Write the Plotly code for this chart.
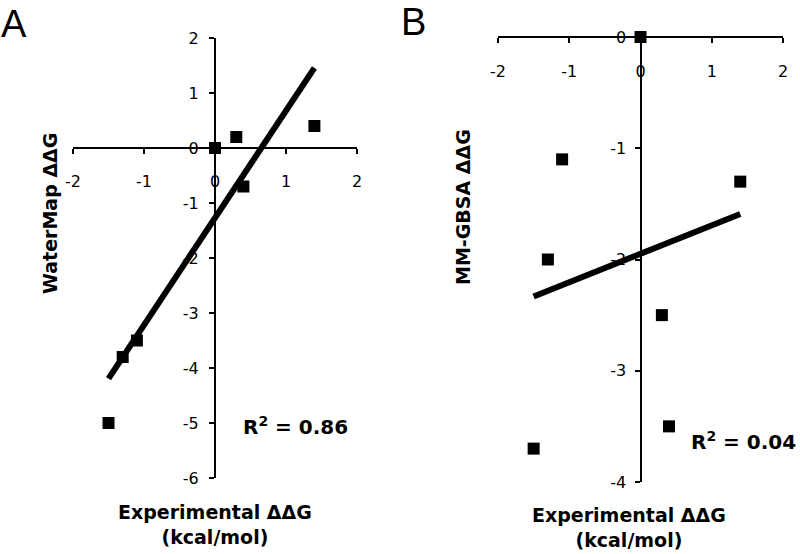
import numpy as np
import plotly.graph_objects as go

# ---- data ----
exp_ddg = [-1.5, -1.3, -1.1, 0.0, 0.3, 0.4, 1.4]
watermap_ddg = [-5.0, -3.8, -3.5, 0.0, 0.2, -0.7, 0.4]
mmgbsa_ddg = [-3.7, -2.0, -1.1, 0.0, -2.5, -3.5, -1.3]

x_ticks = [-2, -1, 0, 1, 2]
x_tick_text = ["-2", "-1", "0", "1", "2"]
ya_ticks = [2, 1, 0, -1, -2, -3, -4, -5, -6]
ya_tick_text = ["2", "1", "0", "-1", "-2", "-3", "-4", "-5", "-6"]
yb_ticks = [0, -1, -2, -3, -4]
yb_tick_text = ["0", "-1", "-2", "-3", "-4"]


def fit(x, y):
    x = np.asarray(x, float)
    y = np.asarray(y, float)
    m, b = np.polyfit(x, y, 1)
    r2 = np.corrcoef(x, y)[0, 1] ** 2
    xs = np.array([x.min(), x.max()])
    return xs, m * xs + b, r2


xa, ya_fit, r2a = fit(exp_ddg, watermap_ddg)
xb, yb_fit, r2b = fit(exp_ddg, mmgbsa_ddg)

FONT = "DejaVu Sans"
W, H = 800, 554

fig = go.Figure()
marker = dict(symbol="square", size=12, color="black")
fig.add_trace(go.Scatter(x=exp_ddg, y=watermap_ddg, mode="markers", marker=marker,
                         xaxis="x", yaxis="y", cliponaxis=False, showlegend=False))
fig.add_trace(go.Scatter(x=xa, y=ya_fit, mode="lines", line=dict(color="black", width=6),
                         xaxis="x", yaxis="y", cliponaxis=False, showlegend=False))
fig.add_trace(go.Scatter(x=exp_ddg, y=mmgbsa_ddg, mode="markers", marker=marker,
                         xaxis="x2", yaxis="y2", cliponaxis=False, showlegend=False))
fig.add_trace(go.Scatter(x=xb, y=yb_fit, mode="lines", line=dict(color="black", width=6),
                         xaxis="x2", yaxis="y2", cliponaxis=False, showlegend=False))


def px_x(p):
    return p / W


def px_y(p):
    return 1 - p / H


common = dict(showgrid=False, zeroline=False, showline=True, linecolor="black", linewidth=2,
              ticks="outside", ticklen=5, tickwidth=2, tickcolor="black", automargin=False,
              tickfont=dict(family=FONT, size=16, color="black"), fixedrange=True)

fig.update_layout(
    width=W, height=H,
    margin=dict(l=0, r=0, t=0, b=0, autoexpand=False),
    paper_bgcolor="white", plot_bgcolor="white",
    xaxis=dict(domain=[px_x(73), px_x(357)], range=[-2, 2], anchor="free",
               position=px_y(148), side="bottom", tickvals=x_ticks, ticktext=x_tick_text,
               ticklabelstandoff=14, **common),
    yaxis=dict(domain=[px_y(478), px_y(38)], range=[-6, 2], anchor="free",
               position=px_x(215), side="left", tickvals=ya_ticks, ticktext=ya_tick_text,
               ticklabelstandoff=7, **common),
    xaxis2=dict(domain=[px_x(498), px_x(783)], range=[-2, 2], anchor="free",
                position=px_y(37), side="bottom", tickvals=x_ticks, ticktext=x_tick_text,
                ticklabelstandoff=15, **common),
    yaxis2=dict(domain=[px_y(482), px_y(37)], range=[-4, 0], anchor="free",
                position=px_x(640.5), side="left", tickvals=yb_ticks, ticktext=yb_tick_text,
                ticklabelstandoff=5, **common),
)

bold = dict(family=FONT, size=19, color="black")
ann = [
    dict(text="A", x=px_x(14), y=px_y(24), font=dict(family="Liberation Sans", size=38, color="black")),
    dict(text="B", x=px_x(414), y=px_y(22), font=dict(family="Liberation Sans", size=38, color="black")),
    dict(text="<b>WaterMap ΔΔG</b>", x=px_x(50), y=px_y(214), textangle=-90, font=bold),
    dict(text="<b>Experimental ΔΔG<br>(kcal/mol)</b>", x=px_x(215), y=px_y(524), font=bold),
    dict(text="<b>MM-GBSA ΔΔG</b>", x=px_x(463), y=px_y(207), textangle=-90, font=bold),
    dict(text="<b>Experimental ΔΔG<br>(kcal/mol)</b>", x=px_x(629), y=px_y(527), font=bold),
    dict(text=f"<b>R<sup>2</sup> = {r2a:.2f}</b>", x=px_x(295), y=px_y(426),
         font=dict(family=FONT, size=20, color="black")),
    dict(text=f"<b>R<sup>2</sup> = {r2b:.2f}</b>", x=px_x(743), y=px_y(441),
         font=dict(family=FONT, size=20, color="black")),
]
for a in ann:
    a.update(xref="paper", yref="paper", showarrow=False, xanchor="center", yanchor="middle")
fig.update_layout(annotations=ann)

fig.write_html("out.html", config={"displayModeBar": False},
               post_script="document.body.style.margin='0';document.body.style.overflow='hidden';")
